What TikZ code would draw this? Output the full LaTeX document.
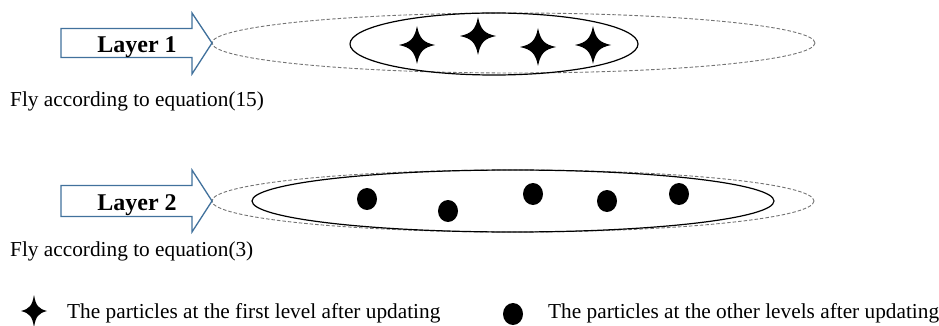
\documentclass[tikz,border=0pt]{standalone}
\usepackage{fontspec}
\setmainfont{Liberation Serif}
\definecolor{arrowblue}{HTML}{41719C}
\tikzset{
  bigarrow/.style={draw=arrowblue, fill=white, line width=1.3pt, line join=miter},
  outerell/.style={draw=black!55, line width=0.9pt, dash pattern=on 3.5pt off 2pt},
  innerell/.style={draw=black, line width=1.2pt},
  flytext/.style={anchor=base west, inner sep=0pt, font=\fontsize{21.3}{25}\selectfont},
  layertext/.style={anchor=base, inner sep=0pt, font=\fontsize{24}{28}\selectfont\bfseries},
  dot/.style={fill=black},
}
\newcommand{\quadstar}[4]{%
  \fill[shift={(#1,#2)}, xscale=#3, yscale=#4]
    (0,-1) .. controls (0.14,-0.34) and (0.34,-0.14) .. (1,0)
    .. controls (0.34,0.14) and (0.14,0.34) .. (0,1)
    .. controls (-0.14,0.34) and (-0.34,0.14) .. (-1,0)
    .. controls (-0.34,-0.14) and (-0.14,-0.34) .. (0,-1) -- cycle;}
\begin{document}
\begin{tikzpicture}[x=1pt,y=-1pt]
\useasboundingbox (0,0) rectangle (939,326);
% Layer 1
\draw[outerell] (513.5,43) ellipse [x radius=301.5, y radius=30];
\draw[innerell] (494,44) ellipse [x radius=144, y radius=31];
\draw[bigarrow] (61,28.5) -- (192,28.5) -- (192,13) -- (212,43) -- (192,74) -- (192,57.5) -- (61,57.5) -- cycle;
\node[layertext] (l1) at (137,52.5) {Layer 1};
\node[flytext] (f1) at (10,106.5) {Fly according to equation(15)};
\quadstar{417}{45}{18}{19}
\quadstar{478}{36}{18}{19}
\quadstar{538}{47}{18}{19}
\quadstar{593}{45}{18}{19}
% Layer 2
\draw[outerell] (513,201) ellipse [x radius=301, y radius=31];
\draw[innerell] (513,201) ellipse [x radius=261, y radius=31];
\draw[bigarrow] (61,185.5) -- (192,185.5) -- (192,170) -- (212,201) -- (192,232) -- (192,216.5) -- (61,216.5) -- cycle;
\node[layertext] (l2) at (137,210) {Layer 2};
\node[flytext] (f2) at (10,256.5) {Fly according to equation(3)};
\fill[dot] (367,199) ellipse [x radius=10, y radius=11];
\fill[dot] (448,211) ellipse [x radius=10, y radius=11];
\fill[dot] (533,194) ellipse [x radius=10, y radius=11];
\fill[dot] (607,201) ellipse [x radius=10, y radius=11];
\fill[dot] (679,194) ellipse [x radius=10, y radius=11];
% Legend
\quadstar{34}{311}{13}{16}
\node[flytext] (lg1) at (67,318) {The particles at the first level after updating};
\fill[dot] (513,314) ellipse [x radius=10, y radius=11];
\node[flytext] (lg2) at (548,318) {The particles at the other levels after updating};
\end{tikzpicture}
\end{document}
